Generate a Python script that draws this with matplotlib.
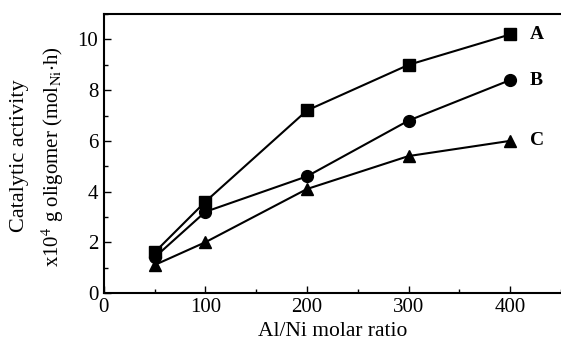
import matplotlib.pyplot as plt
from matplotlib.ticker import MultipleLocator

plt.rcParams['font.family'] = ['Liberation Serif', 'DejaVu Serif']
plt.rcParams['mathtext.fontset'] = 'stix'

ratio = [50, 100, 200, 300, 400]
activity_a = [1.6, 3.6, 7.2, 9.0, 10.2]
activity_b = [1.4, 3.2, 4.6, 6.8, 8.4]
activity_c = [1.1, 2.0, 4.1, 5.4, 6.0]
series = [('A', activity_a, 's'), ('B', activity_b, 'o'), ('C', activity_c, '^')]

fig = plt.figure(figsize=(5.61, 3.45), dpi=100)
ax = fig.add_axes([0.185, 0.151, 0.815, 0.808])

for name, vals, mk in series:
    ax.plot(ratio, vals, '-', color='black', linewidth=1.5, marker=mk, markersize=8.5)
    ax.annotate(name, (ratio[-1], vals[-1]), xytext=(14, 0), textcoords='offset points',
                fontsize=14, fontweight='bold', va='center', ha='left')

ax.set_xlim(0, 450)
ax.set_ylim(0, 11)
ax.xaxis.set_major_locator(MultipleLocator(100))
ax.xaxis.set_minor_locator(MultipleLocator(50))
ax.yaxis.set_major_locator(MultipleLocator(2))
ax.yaxis.set_minor_locator(MultipleLocator(1))
ax.tick_params(which='both', direction='in', labelsize=15, top=False, right=False)
ax.tick_params(which='major', length=5, width=1, pad=4)
ax.tick_params(which='minor', length=3, width=1)
ax.spines['right'].set_visible(False)
for s in ['left', 'bottom', 'top']:
    ax.spines[s].set_linewidth(1.5)

ax.set_xlabel('Al/Ni molar ratio', fontsize=15.5, labelpad=3)
fig.text(20 / 561, 1 - 156 / 345, 'Catalytic activity', rotation=90,
         fontsize=16, ha='center', va='center')
fig.text(53 / 561, 1 - 157 / 345,
         'x10$^4$ g oligomer (mol$_{\\mathrm{Ni}}$$\\cdot$h)', rotation=90,
         fontsize=15, ha='center', va='center')

fig.savefig('out.png', dpi=100)
